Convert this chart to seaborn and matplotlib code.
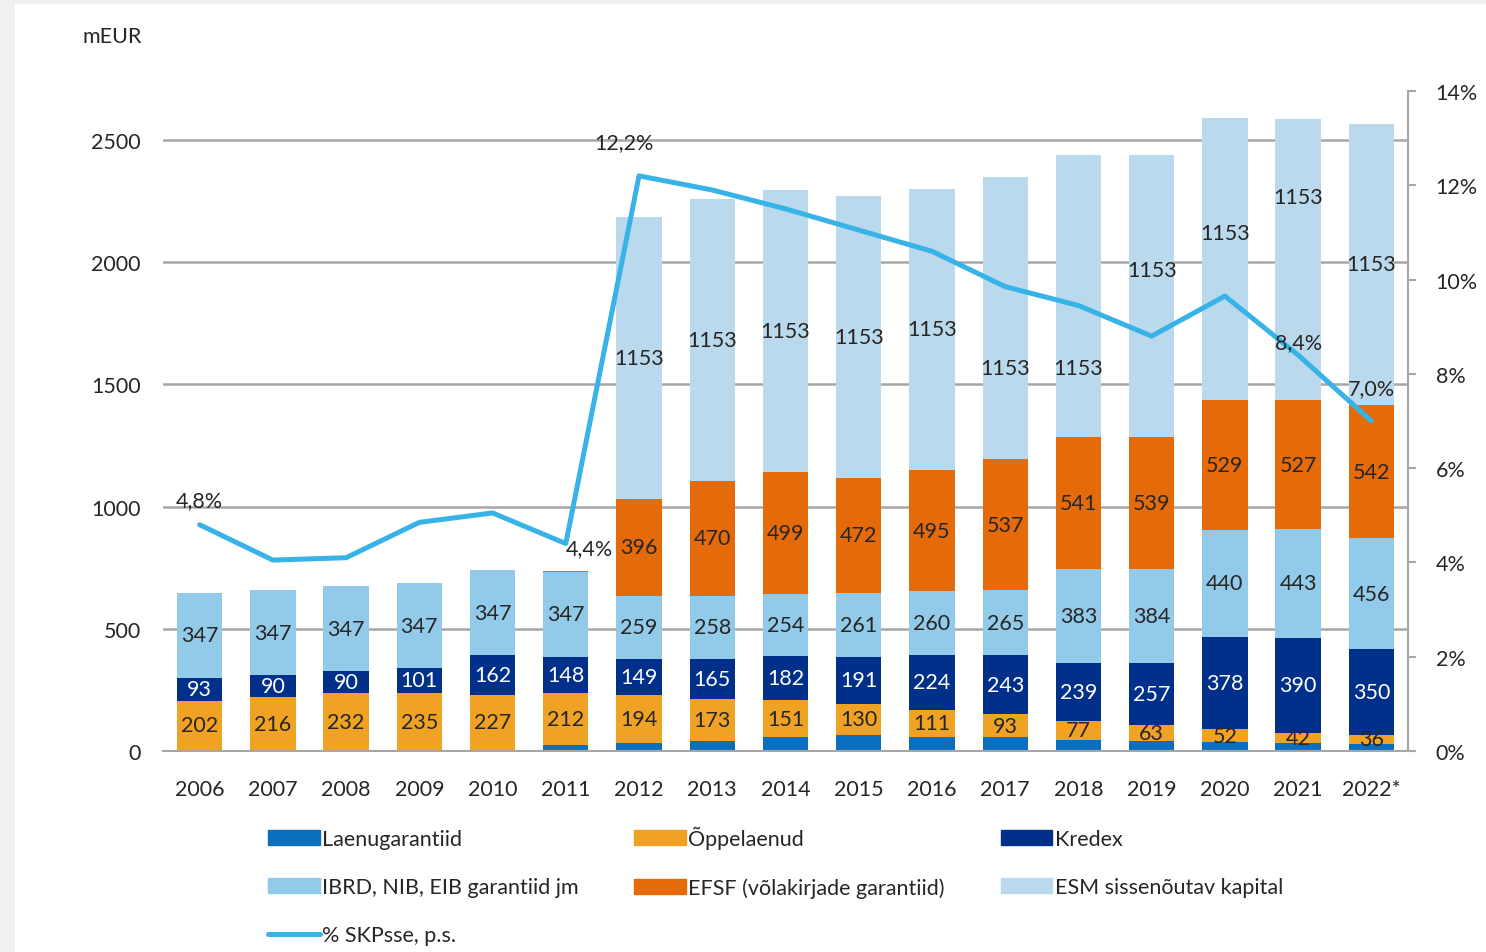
import matplotlib
matplotlib.use("Agg")
import matplotlib.pyplot as plt
import matplotlib.patches as mpatches
from matplotlib.lines import Line2D
import numpy as np
import seaborn as sns

# --- data (mEUR) ---
years = ["2006", "2007", "2008", "2009", "2010", "2011", "2012", "2013", "2014",
         "2015", "2016", "2017", "2018", "2019", "2020", "2021", "2022*"]
laenugarantiid = [4, 4, 4, 3, 4, 25, 34, 40, 56, 64, 58, 57, 46, 42, 36, 32, 30]
oppelaenud = [202, 216, 232, 235, 227, 212, 194, 173, 151, 130, 111, 93, 77, 63, 52, 42, 36]
kredex = [93, 90, 90, 101, 162, 148, 149, 165, 182, 191, 224, 243, 239, 257, 378, 390, 350]
ibrd = [347, 347, 347, 347, 347, 347, 259, 258, 254, 261, 260, 265, 383, 384, 440, 443, 456]
efsf = [0, 0, 0, 0, 0, 5, 396, 470, 499, 472, 495, 537, 541, 539, 529, 527, 542]
esm = [0, 0, 0, 0, 0, 0, 1153, 1153, 1153, 1153, 1153, 1153, 1153, 1153, 1153, 1153, 1153]
pct_gdp = [4.8, 4.05, 4.1, 4.85, 5.05, 4.4, 12.2, 11.9, 11.5, 11.05, 10.6, 9.85,
           9.45, 8.8, 9.65, 8.4, 7.0]
line_label_years = ["2006", "2011", "2012", "2021", "2022*"]

series = [
    ("Laenugarantiid", laenugarantiid, "#0B6FBE", None),
    ("Õppelaenud", oppelaenud, "#F0A224", "#262626"),
    ("Kredex", kredex, "#00308A", "white"),
    ("IBRD, NIB, EIB garantiid jm", ibrd, "#92CAE9", "#262626"),
    ("EFSF (võlakirjade garantiid)", efsf, "#E46A0A", "#262626"),
    ("ESM sissenõutav kapital", esm, "#BAD9EC", "#262626"),
]
line_color = "#38B3E8"

# ESM labels were moved by hand in the original chart (offsets in points)
esm_label_shift = {"2017": -36, "2018": -52, "2019": 19, "2020": 19, "2021": 45}

sns.set_style("white")
plt.rcParams["font.family"] = ["Lato", "DejaVu Sans"]
FS = 15.5

fig = plt.figure(figsize=(14.86, 9.53), dpi=100)
fig.patch.set_facecolor("#F0F0F0")
fig.patches.append(mpatches.Rectangle((15 / 1486, 0), 1, 1 - 5 / 953,
                                      transform=fig.transFigure, facecolor="white",
                                      edgecolor="none", zorder=-10))

ax = fig.add_axes([163 / 1486, 1 - 752 / 953, (1408 - 163) / 1486, (752 - 92) / 953])
ax.set_facecolor("none")

bottom = np.zeros(len(years))
handles = {}
for name, vals, color, txt_color in series:
    vals = np.asarray(vals, dtype=float)
    sns.barplot(x=years, y=vals, bottom=bottom, color=color, width=0.62,
                saturation=1, ax=ax, zorder=2, linewidth=0)
    cont = ax.containers[-1]
    if txt_color is not None:
        labels = [f"{int(v)}" if v >= 20 else "" for v in vals]
        texts = ax.bar_label(cont, labels=labels, label_type="center", color=txt_color,
                             fontsize=FS, zorder=5)
        if name.startswith("ESM"):
            for yr, dy in esm_label_shift.items():
                texts[years.index(yr)].xyann = (0, dy)
    handles[name] = mpatches.Patch(color=color, label=name)
    bottom = bottom + vals

ax.set_ylim(0, 2700)
ax.set_yticks([0, 500, 1000, 1500, 2000, 2500])
ax.set_xlim(-0.5, len(years) - 0.5)
ax.yaxis.grid(True, color="#A6A6A6", linewidth=1.8, zorder=0)
ax.set_axisbelow(True)
ax.set_xlabel("")
ax.set_ylabel("")
for s in ["left", "top", "right"]:
    ax.spines[s].set_visible(False)
ax.spines["bottom"].set_color("#A6A6A6")
ax.spines["bottom"].set_linewidth(1.5)
ax.tick_params(axis="y", length=0, pad=16, labelsize=FS, labelcolor="#262626")
ax.tick_params(axis="x", which="major", length=0, pad=20, labelsize=FS, labelcolor="#262626")
ax.set_xticks(np.arange(-0.5, len(years), 1), minor=True)
ax.tick_params(axis="x", which="minor", length=7, width=1.5, color="#A6A6A6", direction="out")

# secondary axis: % of GDP
ax2 = ax.twinx()
xpos = np.arange(len(years))
sns.lineplot(x=xpos, y=pct_gdp, ax=ax2, color=line_color, linewidth=3.6, zorder=6)
ax2.set_ylim(0, 14)
ax2.set_yticks(range(0, 15, 2))
ax2.set_yticklabels([f"{v}%" for v in range(0, 15, 2)])
ax2.set_xlim(-0.5, len(years) - 0.5)
for s in ["left", "top", "bottom"]:
    ax2.spines[s].set_visible(False)
ax2.spines["right"].set_color("#A6A6A6")
ax2.spines["right"].set_linewidth(1.5)
ax2.tick_params(axis="y", length=6, width=1.5, color="#A6A6A6", direction="out",
                pad=14, labelsize=FS, labelcolor="#262626")
ax2.grid(False)

label_offsets = {"2006": (0, 18, "center"), "2011": (0, -3, "left"),
                 "2012": (-11, 24, "center"), "2021": (0, 9, "center"),
                 "2022*": (0, 24, "center")}
for yr in line_label_years:
    i = years.index(yr)
    dx, dy, ha = label_offsets[yr]
    ax2.annotate(f"{pct_gdp[i]:.1f}%".replace(".", ","), (i, pct_gdp[i]),
                 xytext=(dx, dy), textcoords="offset points", ha=ha, va="center",
                 fontsize=FS, color="#262626", zorder=7)

fig.text(82 / 1486, 1 - 37 / 953, "mEUR", fontsize=FS, color="#262626",
         ha="left", va="center")

line_handle = Line2D([0], [0], color=line_color, linewidth=3.6, label="% SKPsse, p.s.")
order = [handles["Laenugarantiid"], handles["IBRD, NIB, EIB garantiid jm"], line_handle,
         handles["Õppelaenud"], handles["EFSF (võlakirjade garantiid)"],
         handles["Kredex"], handles["ESM sissenõutav kapital"]]
fig.legend(handles=order, ncol=3, loc="upper left",
           bbox_to_anchor=(268 / 1486, 1 - 827 / 953), frameon=False,
           fontsize=FS, handlelength=2.4, handleheight=0.7, handletextpad=0.1,
           labelspacing=1.3, columnspacing=2.6, borderpad=0, borderaxespad=0,
           labelcolor="#262626")

fig.savefig("out.png", dpi=100)
